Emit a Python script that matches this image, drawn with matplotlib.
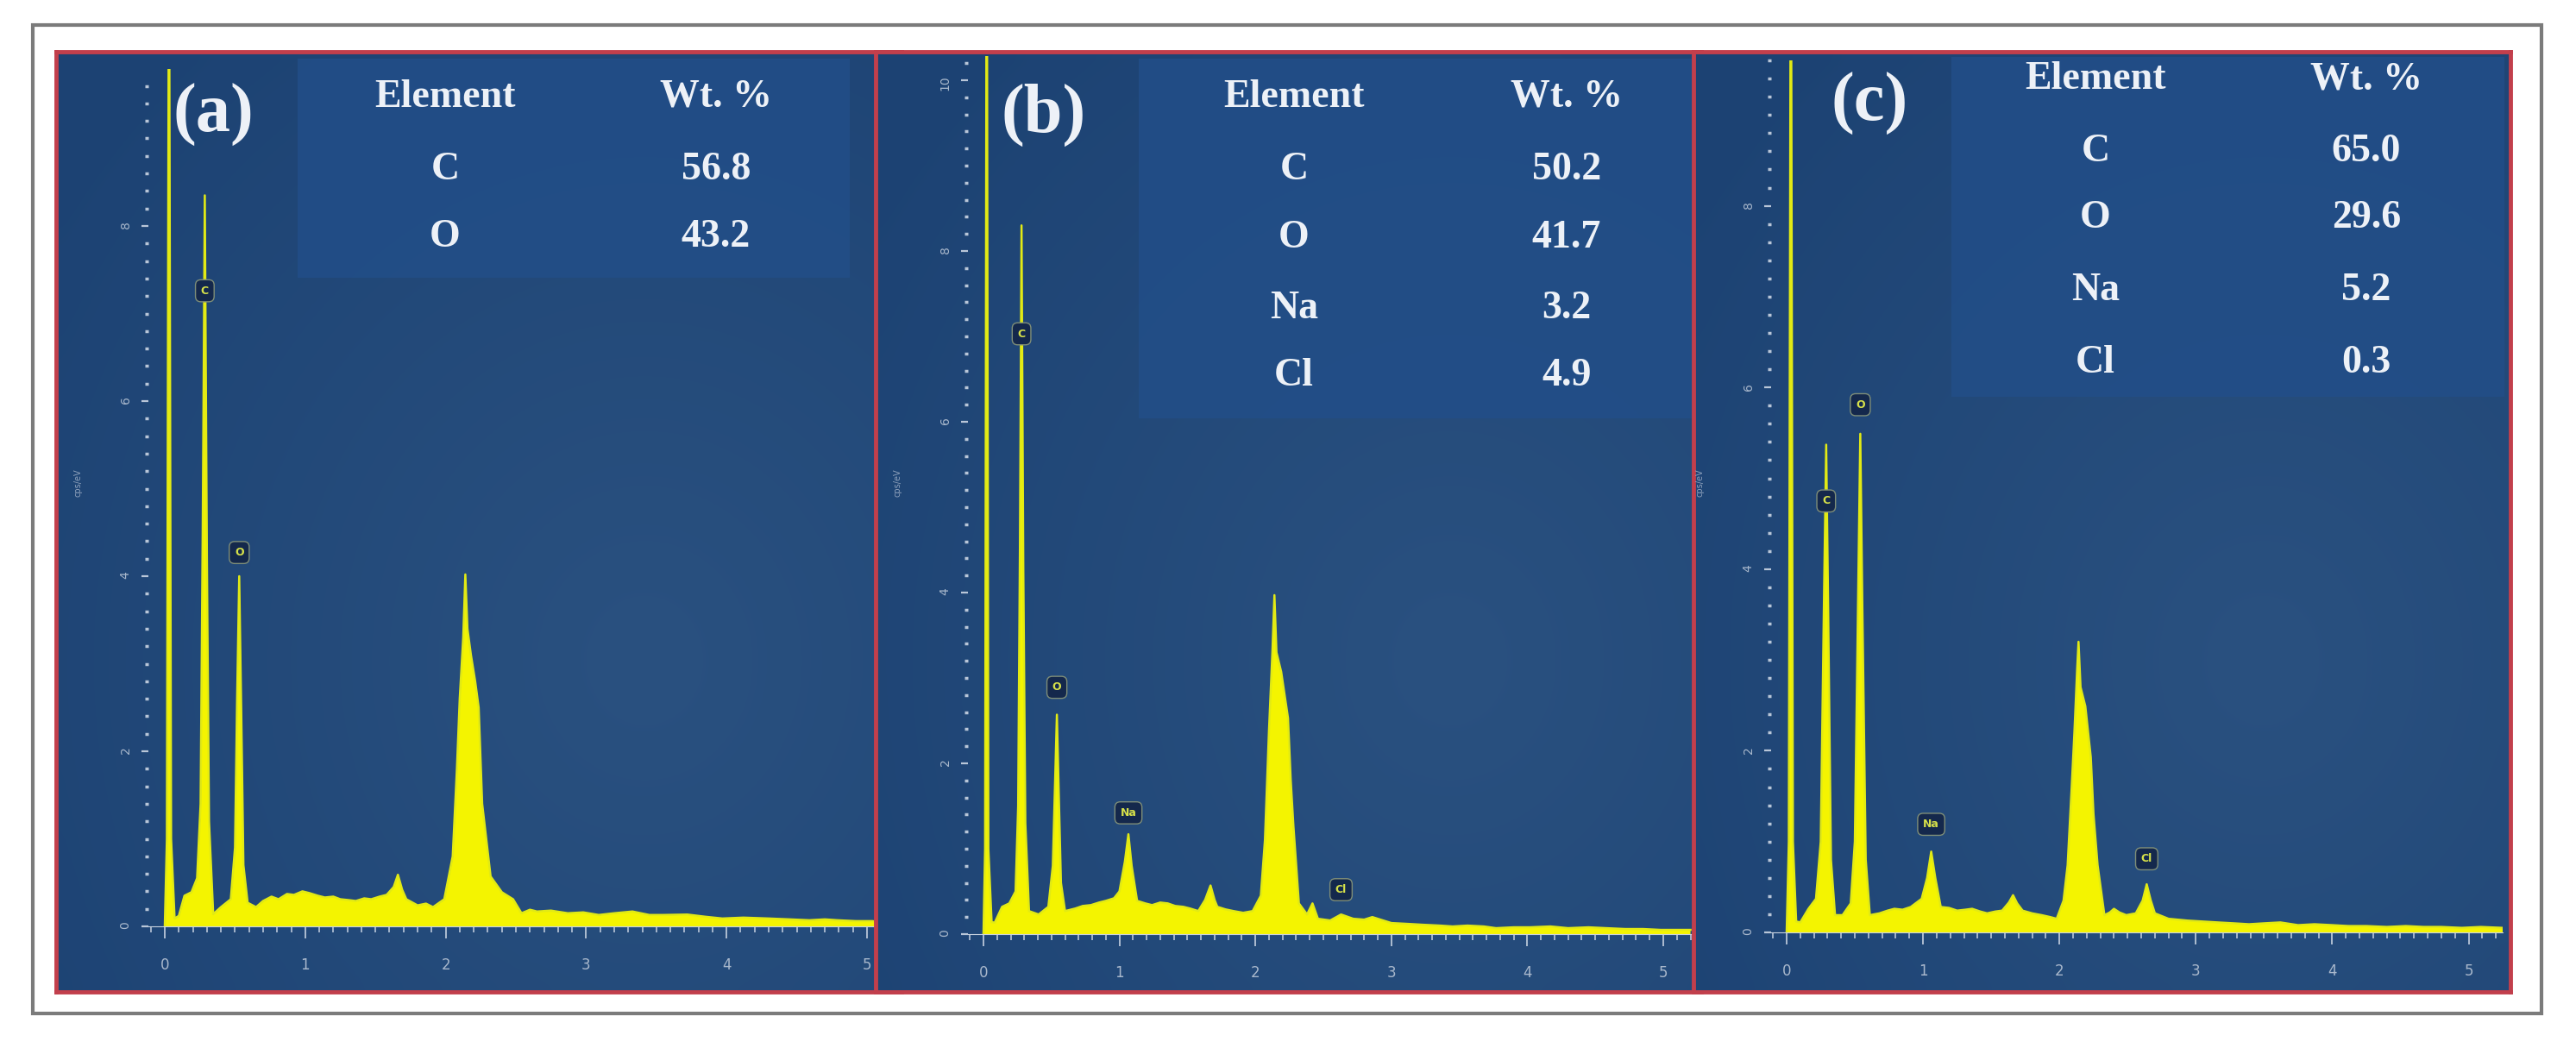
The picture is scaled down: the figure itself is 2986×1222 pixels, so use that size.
import numpy as np
import matplotlib.pyplot as plt
from matplotlib.patches import Rectangle
from matplotlib.ticker import MultipleLocator
from matplotlib.colors import LinearSegmentedColormap

W, H = 2986, 1222

# EDS spectra: (energy keV, counts cps/eV)
spec_a = [(0.00, 0.0), (0.015, 1.0), (0.03, 12.0), (0.045, 1.0), (0.07, 0.09), (0.10, 0.12),
          (0.14, 0.35), (0.19, 0.39), (0.23, 0.55), (0.255, 1.4), (0.27, 4.5), (0.285, 8.35),
          (0.30, 4.2), (0.315, 1.2), (0.345, 0.14), (0.40, 0.22), (0.47, 0.31), (0.50, 0.9),
          (0.515, 2.6), (0.53, 4.0), (0.545, 2.4), (0.56, 0.7), (0.59, 0.27), (0.65, 0.22),
          (0.70, 0.29), (0.76, 0.34), (0.81, 0.31), (0.87, 0.37), (0.92, 0.36), (0.98, 0.40),
          (1.03, 0.38), (1.09, 0.35), (1.14, 0.33), (1.20, 0.34), (1.25, 0.31), (1.31, 0.30),
          (1.36, 0.29), (1.42, 0.32), (1.47, 0.31), (1.53, 0.34), (1.58, 0.36), (1.63, 0.45),
          (1.66, 0.59), (1.69, 0.42), (1.72, 0.31), (1.80, 0.24), (1.86, 0.26), (1.91, 0.22),
          (1.99, 0.31), (2.05, 0.8), (2.08, 1.8), (2.10, 2.6), (2.125, 3.3), (2.14, 4.02),
          (2.155, 3.4), (2.18, 3.1), (2.21, 2.8), (2.235, 2.5), (2.26, 1.4), (2.32, 0.57),
          (2.40, 0.39), (2.48, 0.31), (2.54, 0.15), (2.60, 0.19), (2.65, 0.17), (2.75, 0.18),
          (2.87, 0.15), (2.98, 0.16), (3.09, 0.13), (3.20, 0.15), (3.33, 0.17), (3.45, 0.13),
          (3.55, 0.13), (3.72, 0.135), (3.85, 0.11), (3.97, 0.09), (4.12, 0.10), (4.30, 0.09),
          (4.45, 0.08), (4.59, 0.07), (4.70, 0.08), (4.79, 0.07), (4.92, 0.06), (5.04, 0.06),
          (5.08, 0.05)]

spec_b = [(0.0, 0.0), (0.012, 1.0), (0.024, 13.0), (0.036, 1.0), (0.06, 0.14), (0.083, 0.135),
          (0.137, 0.32), (0.19, 0.36), (0.236, 0.5), (0.255, 1.5), (0.268, 4.5), (0.28, 8.3),
          (0.293, 4.3), (0.308, 1.3), (0.335, 0.27), (0.406, 0.23), (0.477, 0.32), (0.51, 0.8),
          (0.527, 1.8), (0.54, 2.57), (0.553, 1.7), (0.57, 0.6), (0.60, 0.27), (0.675, 0.30),
          (0.73, 0.33), (0.79, 0.34), (0.85, 0.37), (0.90, 0.39), (0.96, 0.42), (1.00, 0.50),
          (1.04, 0.85), (1.066, 1.17), (1.09, 0.8), (1.13, 0.39), (1.19, 0.36), (1.24, 0.34),
          (1.30, 0.37), (1.355, 0.36), (1.41, 0.33), (1.47, 0.32), (1.52, 0.30), (1.58, 0.27),
          (1.63, 0.40), (1.67, 0.57), (1.70, 0.40), (1.72, 0.32), (1.78, 0.29), (1.84, 0.27),
          (1.91, 0.25), (1.98, 0.27), (2.04, 0.45), (2.07, 1.1), (2.10, 2.39), (2.125, 3.3),
          (2.14, 3.97), (2.155, 3.3), (2.19, 3.07), (2.24, 2.53), (2.26, 1.8), (2.28, 1.26),
          (2.32, 0.36), (2.38, 0.23), (2.42, 0.36), (2.46, 0.18), (2.55, 0.16), (2.63, 0.23),
          (2.72, 0.18), (2.80, 0.17), (2.86, 0.20), (3.0, 0.13), (3.12, 0.12), (3.23, 0.11),
          (3.36, 0.10), (3.45, 0.09), (3.56, 0.10), (3.68, 0.09), (3.77, 0.07), (3.90, 0.08),
          (4.02, 0.08), (4.17, 0.09), (4.30, 0.07), (4.45, 0.08), (4.58, 0.07), (4.72, 0.06),
          (4.85, 0.06), (4.98, 0.05), (5.10, 0.05), (5.20, 0.05)]

spec_c = [(0.0, 0.0), (0.016, 1.0), (0.031, 12.0), (0.046, 1.0), (0.07, 0.12), (0.10, 0.11),
          (0.16, 0.26), (0.215, 0.37), (0.25, 1.0), (0.275, 3.8), (0.29, 5.37), (0.305, 3.5),
          (0.325, 0.8), (0.355, 0.19), (0.41, 0.19), (0.47, 0.32), (0.50, 1.0), (0.525, 3.8),
          (0.54, 5.49), (0.555, 3.6), (0.58, 0.8), (0.61, 0.19), (0.68, 0.21), (0.74, 0.24),
          (0.79, 0.26), (0.85, 0.25), (0.91, 0.28), (0.99, 0.37), (1.03, 0.6), (1.06, 0.89),
          (1.09, 0.6), (1.13, 0.28), (1.19, 0.27), (1.25, 0.24), (1.31, 0.25), (1.36, 0.26),
          (1.42, 0.23), (1.47, 0.21), (1.53, 0.23), (1.58, 0.24), (1.63, 0.33), (1.66, 0.41),
          (1.69, 0.32), (1.73, 0.24), (1.80, 0.21), (1.87, 0.19), (1.93, 0.17), (1.98, 0.15),
          (2.03, 0.35), (2.06, 0.74), (2.09, 1.6), (2.11, 2.21), (2.13, 2.9), (2.14, 3.2),
          (2.155, 2.7), (2.19, 2.49), (2.23, 1.93), (2.25, 1.3), (2.28, 0.74), (2.33, 0.19),
          (2.37, 0.22), (2.40, 0.26), (2.44, 0.22), (2.49, 0.19), (2.56, 0.21), (2.61, 0.35),
          (2.64, 0.53), (2.67, 0.35), (2.70, 0.21), (2.80, 0.15), (2.94, 0.13), (3.05, 0.12),
          (3.16, 0.11), (3.28, 0.10), (3.39, 0.09), (3.50, 0.10), (3.62, 0.11), (3.75, 0.08),
          (3.87, 0.09), (4.0, 0.08), (4.12, 0.07), (4.25, 0.07), (4.40, 0.06), (4.54, 0.07),
          (4.67, 0.06), (4.80, 0.06), (4.95, 0.05), (5.09, 0.06), (5.25, 0.05)]

# peak markers: (symbol, energy, height of marker)
peaks_a = [('C', 0.285, 7.26), ('O', 0.53, 4.27)]
peaks_b = [('C', 0.28, 7.03), ('O', 0.54, 2.89), ('Na', 1.066, 1.42), ('Cl', 2.63, 0.52)]
peaks_c = [('C', 0.29, 4.75), ('O', 0.54, 5.81), ('Na', 1.06, 1.19), ('Cl', 2.64, 0.81)]

yticks_a = [0, 2, 4, 6, 8]
yticks_b = [0, 2, 4, 6, 8, 10]
yticks_c = [0, 2, 4, 6, 8]
xticks = [0, 1, 2, 3, 4, 5]

# composition tables
elem_a = ['C', 'O']
wt_a = ['56.8', '43.2']
elem_b = ['C', 'O', 'Na', 'Cl']
wt_b = ['50.2', '41.7', '3.2', '4.9']
elem_c = ['C', 'O', 'Na', 'Cl']
wt_c = ['65.0', '29.6', '5.2', '0.3']

TABLE_BG = '#224e88'
FRAME = '#c23f4c'
TXT = '#edf1f7'
TICK = '#b9c6d8'
YEL = '#f4f400'
bg_cmap = LinearSegmentedColormap.from_list('bg', ['#1c4273', '#2a5180'])

# soft glow in the panel background (brighter towards lower right)
gx, gy = np.meshgrid(np.linspace(0, 1, 60), np.linspace(0, 1, 60))
glow = np.clip(1 - np.hypot(gx - 0.7, gy - 0.35) / 0.9, 0, 1)


def rect(l, t, r, b):
    return [l / W, 1 - b / H, (r - l) / W, (b - t) / H]


fig = plt.figure(figsize=(W / 100, H / 100), dpi=100)
fig.patch.set_facecolor('white')

fig.add_artist(Rectangle((38 / W, 1 - 1175 / H), (2946 - 38) / W, (1175 - 29) / H,
                         transform=fig.transFigure, fill=False, ec='#7b7b7b', lw=3))

panels = [
    dict(spec=spec_a, peaks=peaks_a, yt=yticks_a, elem=elem_a, wt=wt_a, letter='(a)',
         box=(65, 60, 1045, 1150), table=(345, 68, 985, 322),
         L=172, R=1018, x0=191, kx=162.8, y0=1074, ky=101.5, T=80,
         lpos=(247, 133), ex=516, wx=830, hy=113, rows=[197, 275]),
    dict(spec=spec_b, peaks=peaks_b, yt=yticks_b, elem=elem_b, wt=wt_b, letter='(b)',
         box=(1015, 60, 1972, 1150), table=(1320, 68, 1965, 485),
         L=1122, R=1963, x0=1140, kx=157.6, y0=1083, ky=99.0, T=65,
         lpos=(1210, 133), ex=1500, wx=1816, hy=113, rows=[197, 276, 358, 436]),
    dict(spec=spec_c, peaks=peaks_c, yt=yticks_c, elem=elem_c, wt=wt_c, letter='(c)',
         box=(1963, 60, 2910, 1150), table=(2262, 66, 2903, 460),
         L=2053, R=2901, x0=2071, kx=158.1, y0=1081, ky=105.3, T=70,
         lpos=(2167, 120), ex=2429, wx=2743, hy=92, rows=[176, 253, 337, 421]),
]

for p in panels:
    # panel background with red frame
    bg = fig.add_axes(rect(*p['box']))
    bg.imshow(glow, cmap=bg_cmap, extent=(0, 1, 0, 1), origin='lower',
              aspect='auto', interpolation='bicubic', zorder=0)
    bg.set_xticks([])
    bg.set_yticks([])
    for s in bg.spines.values():
        s.set_color(FRAME)
        s.set_linewidth(3.5)
    bg.set_xlim(0, 1)
    bg.set_ylim(0, 1)
    l, t, r, b = p['box']
    tl, tt, tr, tb = p['table']
    bg.add_patch(Rectangle(((tl - l) / (r - l), (b - tb) / (b - t)),
                           (tr - tl) / (r - l), (tb - tt) / (b - t),
                           fc=TABLE_BG, ec='none', alpha=0.85, zorder=1))

    # spectrum axes
    ax = fig.add_axes(rect(p['L'], p['T'], p['R'], p['y0']))
    ax.set_facecolor('none')
    e = [v[0] for v in p['spec']]
    c = [v[1] for v in p['spec']]
    ax.fill_between(e, c, 0, color=YEL, lw=0)
    ax.plot(e, c, color='#e2ea14', lw=1.8)
    ax.set_xlim((p['L'] - p['x0']) / p['kx'], (p['R'] - p['x0']) / p['kx'])
    ax.set_ylim(0, (p['y0'] - p['T']) / p['ky'])

    for s in ['top', 'right', 'left']:
        ax.spines[s].set_visible(False)
    ax.spines['bottom'].set_color('#c9d3e0')
    ax.spines['bottom'].set_linewidth(0.8)

    ax.set_xticks(xticks)
    ax.xaxis.set_minor_locator(MultipleLocator(0.1))
    ax.set_yticks(p['yt'])
    ax.yaxis.set_minor_locator(MultipleLocator(0.2))
    ax.tick_params(axis='x', which='major', direction='out', length=10, width=1.3,
                   color=TICK, labelcolor='#a9b8cc', labelsize=12, pad=16)
    ax.tick_params(axis='x', which='minor', direction='out', length=5, width=1.2, color=TICK)
    ax.tick_params(axis='y', which='major', direction='out', length=6, width=1.6,
                   color=TICK, labelcolor='#a9b8cc', labelsize=10, pad=8, labelrotation=90)
    ax.tick_params(axis='y', which='minor', direction='out', length=3, width=2.5, color=TICK)

    for sym, xe, yv in p['peaks']:
        ax.text(xe, yv, sym, ha='center', va='center', fontsize=9, color='#d6e04a',
                fontweight='bold',
                bbox=dict(boxstyle='round,pad=0.5', fc='#14284c', ec='#7f8e78', lw=1.0))

    # y label
    fig.text((p['L'] - 82) / W, 1 - 560 / H, 'cps/eV', rotation=90, fontsize=7,
             color='#8fa2bc', ha='center', va='center')

    # panel letter and table text
    serif = dict(family='Liberation Serif', fontweight='bold', color=TXT,
                 ha='center', va='center')
    fig.text(p['lpos'][0] / W, 1 - p['lpos'][1] / H, p['letter'], fontsize=58, **serif)
    fig.text(p['ex'] / W, 1 - p['hy'] / H, 'Element', fontsize=33, **serif)
    fig.text(p['wx'] / W, 1 - p['hy'] / H, 'Wt. %', fontsize=33, **serif)
    for el, wv, ry in zip(p['elem'], p['wt'], p['rows']):
        fig.text(p['ex'] / W, 1 - ry / H, el, fontsize=33, **serif)
        fig.text(p['wx'] / W, 1 - ry / H, wv, fontsize=33, **serif)

fig.savefig('out.png', dpi=100, facecolor='white')
